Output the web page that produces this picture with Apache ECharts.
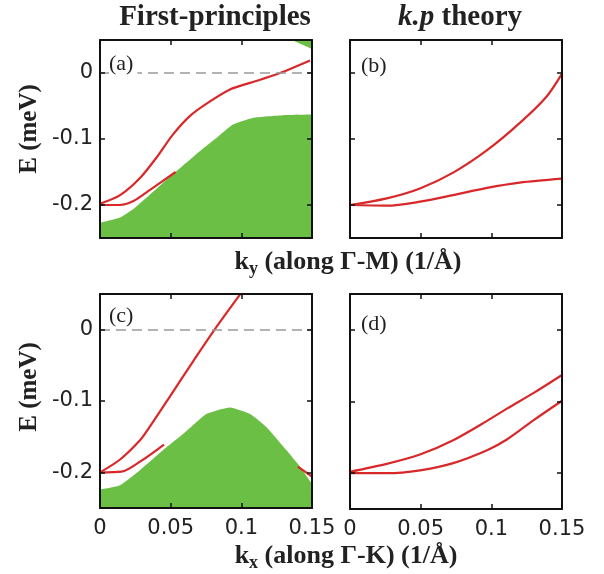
<!DOCTYPE html>
<html>
<head>
<meta charset="utf-8">
<script src="https://cdn.jsdelivr.net/npm/echarts@6.0.0/dist/echarts.min.js"></script>
<style>
  html, body { margin: 0; padding: 0; background: #fff; }
  #main { width: 604px; height: 574px; }
</style>
</head>
<body>
<div id="main"></div>
<script>
// (a) first-principles, k along Γ-M
const aUpper = [[0, -0.198], [0.0142, -0.185], [0.0283, -0.159], [0.04, -0.128], [0.0517, -0.093],
  [0.0637, -0.065], [0.0757, -0.046], [0.092, -0.025], [0.106, -0.015], [0.125, -0.002], [0.1486, 0.019]]
const aLower = [[0, -0.2], [0.014, -0.2], [0.0236, -0.194], [0.0354, -0.177], [0.0535, -0.15]]
const aBulk = [[0, -0.227], [0.0142, -0.219], [0.0236, -0.206], [0.0354, -0.184], [0.0517, -0.153],
  [0.0708, -0.118], [0.0826, -0.098], [0.094, -0.078], [0.108, -0.068], [0.1297, -0.064], [0.15, -0.063]]
const aBulkTop = [[0.1356, 0.05], [0.143, 0.043], [0.15, 0.036]]

// (b) k.p theory, k along Γ-M
const bUpper = [[0, -0.2], [0.026, -0.19], [0.0495, -0.175], [0.073, -0.151], [0.097, -0.117],
  [0.12, -0.076], [0.139, -0.036], [0.15, -0.001]]
const bLower = [[0, -0.2], [0.026, -0.201], [0.0495, -0.195], [0.073, -0.185], [0.097, -0.174],
  [0.12, -0.166], [0.15, -0.16]]

// (c) first-principles, k along Γ-K
const cUpper = [[0, -0.2], [0.0142, -0.182], [0.0283, -0.155], [0.0342, -0.139], [0.05, -0.092],
  [0.066, -0.044], [0.0807, -0.001], [0.099, 0.049]]
const cLower = [[0, -0.2], [0.0153, -0.199], [0.0283, -0.185], [0.0453, -0.161]]
const cEdge = [[0.14, -0.192], [0.15, -0.206]]
const cBulk = [[0, -0.224], [0.0142, -0.218], [0.0283, -0.197], [0.047, -0.165], [0.0613, -0.142],
  [0.0755, -0.118], [0.092, -0.109], [0.106, -0.118], [0.118, -0.137], [0.132, -0.169],
  [0.1415, -0.192], [0.15, -0.216]]

// (d) k.p theory, k along Γ-K
const dUpper = [[0, -0.198], [0.026, -0.187], [0.0495, -0.174], [0.073, -0.154], [0.097, -0.127],
  [0.111, -0.11], [0.13, -0.088], [0.15, -0.063]]
const dLower = [[0, -0.2], [0.026, -0.2], [0.0495, -0.196], [0.073, -0.186], [0.097, -0.168],
  [0.111, -0.153], [0.13, -0.126], [0.15, -0.099]]

const xTicks = [0, 0.05, 0.1, 0.15]
const yTicks = [-0.2, -0.1, 0]

const red = '#d8282a'
const green = '#6cbf45'
const serif = '"Liberation Serif", "DejaVu Serif", serif'
const sans = '"DejaVu Sans", sans-serif'

const grids = [
  { left: 100, top: 40, width: 212, height: 198 },
  { left: 350, top: 40, width: 212, height: 198 },
  { left: 100, top: 294, width: 212, height: 214 },
  { left: 350, top: 294, width: 212, height: 215 },
]

const axisLine = { show: true, onZero: false, lineStyle: { color: '#111', width: 2 } }
const axisTick = (vals) => ({ show: true, inside: true, length: 5, customValues: vals, lineStyle: { color: '#111', width: 1.5 } })

const xAxis = []
const yAxis = []
grids.forEach((g, gi) => {
  const showX = gi >= 2
  const showY = gi % 2 === 0
  ;['bottom', 'top'].forEach((pos) => {
    xAxis.push({
      gridIndex: gi, type: 'value', position: pos, min: 0, max: 0.15, z: 5,
      axisLine, axisTick: axisTick(xTicks), splitLine: { show: false },
      axisLabel: {
        show: showX && pos === 'bottom', customValues: xTicks, margin: 10,
        fontFamily: sans, fontSize: 21, color: '#222',
        formatter: (v) => (v === 0 ? '0' : String(+v.toFixed(2))),
      },
    })
  })
  ;['left', 'right'].forEach((pos) => {
    yAxis.push({
      gridIndex: gi, type: 'value', position: pos, min: -0.25, max: 0.05, z: 5,
      axisLine, axisTick: axisTick(yTicks), splitLine: { show: false },
      axisLabel: {
        show: showY && pos === 'left', customValues: yTicks, margin: 7,
        fontFamily: sans, fontSize: 21, color: '#222',
        formatter: (v) => (v === 0 ? '0' : v.toFixed(1)),
      },
    })
  })
})

function redLine(gi, data, extra) {
  return Object.assign({
    type: 'line', xAxisIndex: gi * 2, yAxisIndex: gi * 2, data,
    showSymbol: false, smooth: 0.3, z: 3,
    lineStyle: { color: red, width: 2.2 },
  }, extra)
}

function bulk(gi, data, origin) {
  return {
    type: 'line', xAxisIndex: gi * 2, yAxisIndex: gi * 2, data,
    showSymbol: false, smooth: 0.15, z: 1,
    lineStyle: { width: 0 },
    areaStyle: { color: green, opacity: 1, origin },
  }
}

const zeroLine = {
  silent: true, symbol: 'none', label: { show: false },
  lineStyle: { color: '#9a9a9a', type: [10, 6], width: 1.5 },
  data: [{ yAxis: 0 }],
}

const series = [
  bulk(0, aBulk, 'start'),
  bulk(0, aBulkTop, 'end'),
  redLine(0, aUpper, { markLine: zeroLine }),
  redLine(0, aLower),
  redLine(1, bUpper),
  redLine(1, bLower),
  bulk(2, cBulk, 'start'),
  redLine(2, cUpper, { markLine: zeroLine }),
  redLine(2, cLower),
  redLine(2, cEdge),
  redLine(3, dUpper),
  redLine(3, dLower),
]

const bold = (size) => `bold ${size}px ${serif}`
const kName = (sub, dir) => ({
  text: `k{s|${sub}} (along Γ-${dir}) (1/Å)`,
  font: bold(26), fill: '#222', align: 'center', verticalAlign: 'middle',
  rich: { s: { fontSize: 18, fontWeight: 'bold', fontFamily: serif, fill: '#222', padding: [14, 0, 0, 0] } },
})

const graphic = [
  { type: 'text', x: 215, y: 18, style: { text: 'First-principles', font: bold(29), fill: '#222', align: 'center', verticalAlign: 'middle' } },
  { type: 'text', x: 460, y: 18, style: {
    text: '{i|k.p} theory', font: bold(29), fill: '#222', align: 'center', verticalAlign: 'middle',
    rich: { i: { fontStyle: 'italic', fontWeight: 'bold', fontSize: 29, fontFamily: serif, fill: '#222' } },
  } },
  { type: 'text', x: 348, y: 262, style: kName('y', 'M') },
  { type: 'text', x: 346, y: 556, style: kName('x', 'K') },
  { type: 'text', x: 30, y: 129, rotation: Math.PI / 2, style: { text: 'E (meV)', font: bold(25), fill: '#222', align: 'center', verticalAlign: 'middle' } },
  { type: 'text', x: 30, y: 387, rotation: Math.PI / 2, style: { text: 'E (meV)', font: bold(25), fill: '#222', align: 'center', verticalAlign: 'middle' } },
  { type: 'text', x: 109, y: 64, z: 10, style: { text: '(a)', font: `22px ${serif}`, fill: '#222', verticalAlign: 'middle', backgroundColor: '#fff', padding: [0, 4, 2, 0] } },
  { type: 'text', x: 361, y: 66, z: 10, style: { text: '(b)', font: `22px ${serif}`, fill: '#222', verticalAlign: 'middle' } },
  { type: 'text', x: 109, y: 316, z: 10, style: { text: '(c)', font: `22px ${serif}`, fill: '#222', verticalAlign: 'middle' } },
  { type: 'text', x: 361, y: 324, z: 10, style: { text: '(d)', font: `22px ${serif}`, fill: '#222', verticalAlign: 'middle' } },
]

const chart = echarts.init(document.getElementById('main'))
chart.setOption({
  animation: false,
  backgroundColor: '#fff',
  grid: grids,
  xAxis,
  yAxis,
  series,
  graphic,
})
</script>
</body>
</html>
